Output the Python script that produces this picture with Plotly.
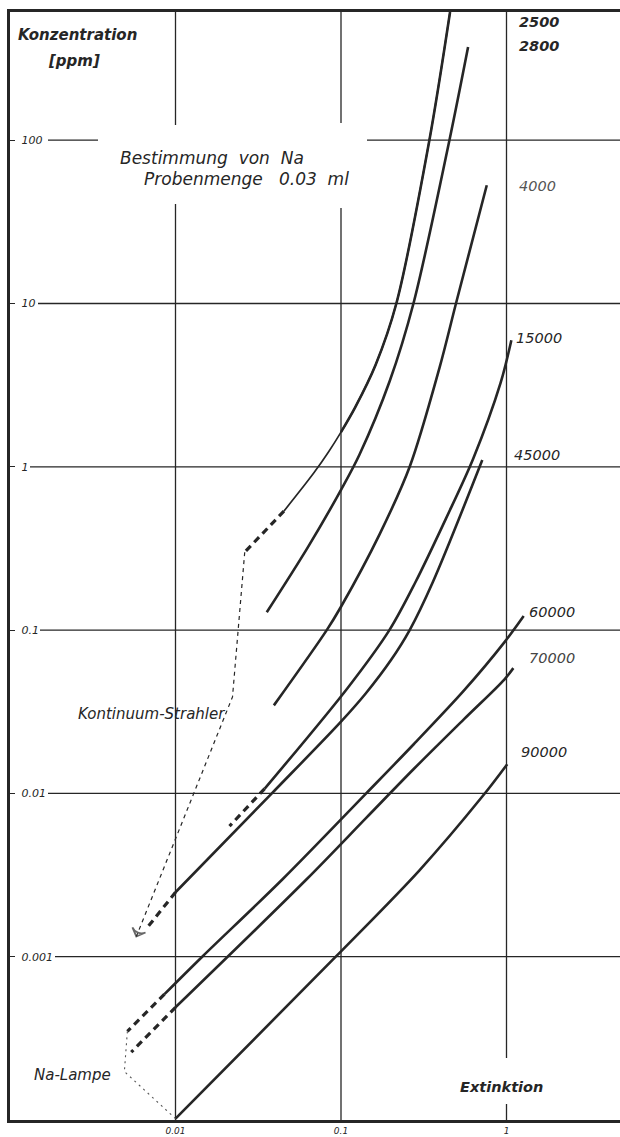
import plotly.graph_objects as go

# ---------------- data (Extinktion E, Konzentration C in ppm) ----------------
curve_labels = ["2500", "2800", "4000", "15000", "45000", "60000", "70000", "90000"]

e_2500 = [0.456, 0.342, 0.216, 0.162, 0.122, 0.100, 0.0846, 0.0686, 0.0452]
c_2500 = [610, 100, 10, 4.22, 2.32, 1.63, 1.245, 0.918, 0.535]
n_2500_thick = 6          # upper part of the 2500 curve is drawn heavier
e_2500_dash = [0.0452, 0.0262]
c_2500_dash = [0.535, 0.300]

e_2800 = [0.586, 0.452, 0.274, 0.197, 0.129, 0.101, 0.063, 0.0356]
c_2800 = [372, 100, 10, 3.35, 1.18, 0.735, 0.321, 0.1285]

e_4000 = [0.760, 0.50, 0.394, 0.26, 0.171, 0.100, 0.082, 0.0393]
c_4000 = [53, 10.4, 4.05, 1.0, 0.386, 0.139, 0.100, 0.0346]

e_15000 = [1.07, 0.92, 0.629, 0.43, 0.282, 0.196, 0.110, 0.0346]
c_15000 = [5.95, 3.25, 1.12, 0.48, 0.197, 0.100, 0.0444, 0.0107]
e_15000_dash = [0.0346, 0.0212]
c_15000_dash = [0.0107, 0.0063]

e_45000 = [0.714, 0.359, 0.26, 0.20, 0.141, 0.100, 0.0382, 0.010]
c_45000 = [1.10, 0.197, 0.100, 0.0653, 0.0409, 0.0275, 0.010, 0.00248]
e_45000_dash = [0.010, 0.00676]
c_45000_dash = [0.00248, 0.00151]

e_60000 = [1.27, 0.97, 0.554, 0.275, 0.142, 0.0445, 0.0145, 0.00858]
c_60000 = [0.122, 0.0841, 0.0427, 0.020, 0.010, 0.00299, 0.001, 0.00059]
e_60000_dash = [0.00858, 0.00512]
c_60000_dash = [0.00059, 0.000349]

e_70000 = [1.10, 0.97, 0.554, 0.275, 0.142, 0.0622, 0.010]
c_70000 = [0.0585, 0.0498, 0.0285, 0.0141, 0.00708, 0.00299, 0.00049]
e_70000_dash = [0.010, 0.0054]
c_70000_dash = [0.00049, 0.00026]

e_90000 = [1.01, 0.716, 0.297, 0.093, 0.010]
c_90000 = [0.0151, 0.0096, 0.00337, 0.001, 0.000102]

# guide lines towards the light sources
e_kont = [0.0262, 0.0221, 0.0058]
c_kont = [0.300, 0.039, 0.00133]
e_na = [0.00512, 0.00491, 0.010]
c_na = [0.000349, 0.000198, 0.000102]

y_ticks = [100, 10, 1, 0.1, 0.01, 0.001]
y_tick_text = ["100", "10", "1", "0.1", "0.01", "0.001"]
x_ticks = [0.01, 0.1, 1]
x_tick_text = ["0.01", "0.1", "1"]

# ---------------- styling helpers ----------------
INK = "#262626"
W, H = 632, 1137           # figure is slightly wider than the window: no right frame
L, R, T, B = 10, 632, 12, 1120
X_RANGE = [-3, -3 + (R - L) / 165.5]


def px(x):
    return (x - L) / (R - L)


def py(y):
    return (B - y) / (B - T)


fig = go.Figure()


def line(e, c, width=2.6, dash=None, color=INK):
    fig.add_trace(go.Scatter(
        x=e, y=c, mode="lines",
        line=dict(color=color, width=width, dash=dash, shape="spline", smoothing=0.9),
        hoverinfo="skip"))


# 2500: thin full curve plus heavier upper part
line(e_2500, c_2500, width=1.7)
line(e_2500[:n_2500_thick], c_2500[:n_2500_thick], width=2.6)

for e, c in [(e_2800, c_2800), (e_4000, c_4000), (e_15000, c_15000),
             (e_45000, c_45000), (e_60000, c_60000), (e_70000, c_70000),
             (e_90000, c_90000)]:
    line(e, c)

for e, c in [(e_2500_dash, c_2500_dash), (e_15000_dash, c_15000_dash),
             (e_45000_dash, c_45000_dash), (e_60000_dash, c_60000_dash),
             (e_70000_dash, c_70000_dash)]:
    fig.add_trace(go.Scatter(x=e, y=c, mode="lines",
                             line=dict(color=INK, width=3.2, dash="7px,5px"),
                             hoverinfo="skip"))

fig.add_trace(go.Scatter(
    x=e_kont, y=c_kont, mode="lines+markers",
    line=dict(color=INK, width=1.2, dash="4px,4px"),
    marker=dict(size=[0, 0, 10], symbol="arrow-wide-open", angleref="previous",
                line=dict(color=INK, width=1.8), color=INK),
    hoverinfo="skip"))
fig.add_trace(go.Scatter(
    x=e_na, y=c_na, mode="lines",
    line=dict(color="#555", width=1.1, dash="2px,4px"),
    hoverinfo="skip"))

# ---------------- grid lines (segments, leaving gaps for text) ----------------
shapes = []
GRID = dict(color=INK, width=1.3)
h_start = {100: 48, 10: 38, 1: 30, 0.1: 40, 0.01: 48, 0.001: 55}
for yv in y_ticks:
    segs = [(h_start[yv], 98), (367, R)] if yv == 100 else [(h_start[yv], R)]
    for a, b in segs:
        shapes.append(dict(type="line", xref="paper", yref="y", x0=px(a), x1=px(b),
                           y0=yv, y1=yv, line=GRID, layer="below"))
v_segs = {0.01: [(12, 125), (204, 1120)], 0.1: [(12, 123), (208, 1120)],
          1: [(12, 1058), (1104, 1120)]}
for xv in x_ticks:
    for a, b in v_segs[xv]:
        shapes.append(dict(type="line", xref="x", yref="paper", x0=xv, x1=xv,
                           y0=py(a), y1=py(b), line=GRID, layer="below"))

# ---------------- text ----------------
ann = []


def text(s, x, y, size=14, anchor="left", bold=False, color=INK):
    s = f"<i>{s}</i>"
    if bold:
        s = f"<b>{s}</b>"
    ann.append(dict(text=s, x=px(x), y=py(y), xref="paper", yref="paper",
                    xanchor=anchor, yanchor="middle", showarrow=False,
                    font=dict(size=size, color=color, family="DejaVu Sans")))


text("Konzentration", 77, 35, size=15, anchor="center", bold=True)
text("[ppm]", 74, 61, size=15, anchor="center", bold=True)
text("Bestimmung  von  Na", 118, 158, size=17)
text("Probenmenge   0.03  ml", 142, 179, size=17)

label_pos = [(517, 22, True, INK), (517, 46, True, INK), (517, 186, False, "#555"),
             (514, 338, False, INK), (512, 455, False, INK), (527, 612, False, INK),
             (527, 658, False, "#444"), (519, 752, False, INK)]
for lab, (x, y, b, col) in zip(curve_labels, label_pos):
    text(lab, x, y, size=14.5, bold=b, color=col)

text("Kontinuum-Strahler", 227, 714, size=15, anchor="right")
text("Na-Lampe", 32, 1075, size=15)
text("Extinktion", 458, 1087, size=14.5, bold=True)

fig.update_layout(
    width=W, height=H,
    margin=dict(l=L, r=W - R, t=T, b=H - B),
    paper_bgcolor="white", plot_bgcolor="white",
    showlegend=False,
    shapes=shapes, annotations=ann,
    xaxis=dict(type="log", range=X_RANGE, showgrid=False, zeroline=False,
               showline=True, mirror=True, linecolor=INK, linewidth=2.5,
               tickvals=x_ticks, ticktext=[f"<i>{t}</i>" for t in x_tick_text],
               ticks="", ticklabelstandoff=0,
               tickfont=dict(size=9, color=INK, family="DejaVu Sans")),
    yaxis=dict(type="log", range=[-4, 2.785], showgrid=False, zeroline=False,
               showline=True, mirror=False, linecolor=INK, linewidth=2.5,
               tickvals=y_ticks, ticktext=[f"<i>{t}</i>" for t in y_tick_text],
               ticks="inside", ticklen=5, tickwidth=1.3, tickcolor=INK,
               ticklabelposition="inside", ticklabelstandoff=6,
               tickfont=dict(size=11, color=INK, family="DejaVu Sans")),
)

fig.write_html("out.html",
               config={"displayModeBar": False},
               post_script="document.body.style.margin='0';"
                           "document.body.style.overflow='hidden';")
